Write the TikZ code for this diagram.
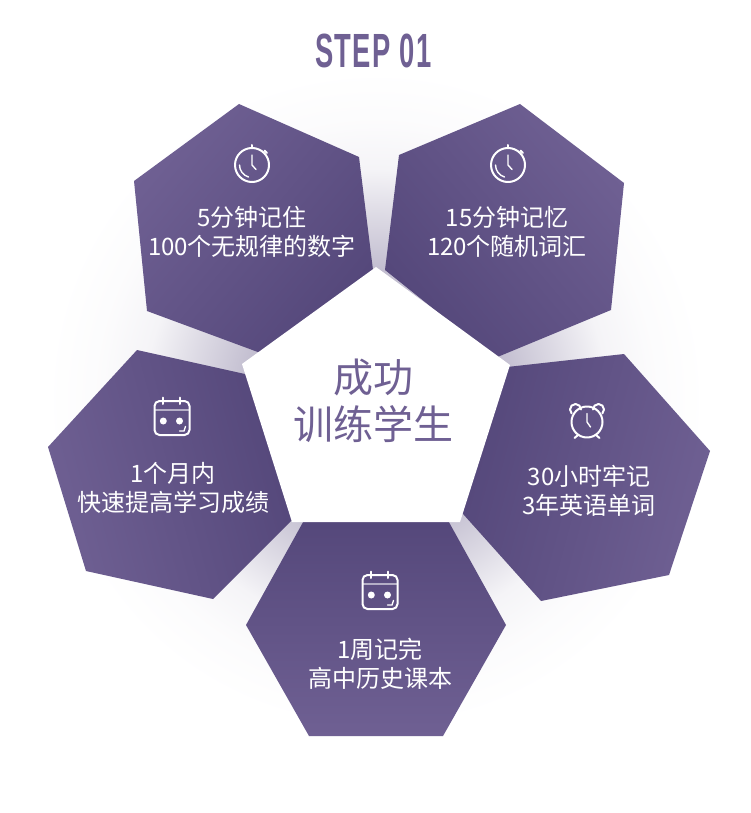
\documentclass[tikz,border=0pt]{standalone}
\usepackage{fontspec}
\setmainfont{Noto Sans CJK SC}
\newfontfamily\stepfont[FakeStretch=0.57,LetterSpace=3]{Liberation Sans}
\definecolor{plumlight}{HTML}{6F6093}
\definecolor{plumdark}{HTML}{54477A}
\pgfdeclareradialshading{glow}{\pgfpoint{0bp}{0bp}}{
  color(0bp)=(plumdark!40!white);
  color(10bp)=(plumdark!35!white);
  color(14bp)=(plumdark!20!white);
  color(17.5bp)=(plumdark!6!white);
  color(21bp)=(plumdark!2!white);
  color(25bp)=(white);
  color(50bp)=(white)}
\tikzset{
  hexfill/.style={top color=plumlight,bottom color=plumdark,shading angle=#1},
  icon/.style={draw=white,line width=2pt,line cap=round,line join=round},
  iconthin/.style={draw=white,line width=1.4pt,line cap=round},
  itemtext/.style={text=white,align=center,font=\fontsize{24}{29.5}\selectfont,inner sep=0pt},
}
\newcommand{\iconwatch}[2]{
  \begin{scope}[shift={(#1,#2)}]
    \draw[icon] (0,0) circle (17);
    \draw[icon] (0,-17) -- (0,-20);
    \draw[icon] (12.5,-14.5) -- (15,-12);
    \draw[iconthin] (0,-10) -- (0,0) -- (4,4.5);
    \draw[iconthin] (-12.5,0) arc (180:106:12.5);
  \end{scope}
}
\newcommand{\iconalarm}[2]{
  \begin{scope}[shift={(#1,#2)}]
    \draw[icon] (0,0) circle (15.5);
    \draw[icon] (-11.5,-12.5) ++(135:5.5) arc (135:360:5.5);
    \draw[icon] (11.5,-12.5) ++(180:5.5) arc (180:405:5.5);
    \draw[icon] (-9,13) -- (-12.5,16);
    \draw[icon] (9,13) -- (12.5,16);
    \draw[iconthin] (0,-8.5) -- (0,0) -- (3.5,5);
  \end{scope}
}
\newcommand{\iconcal}[2]{
  \begin{scope}[shift={(#1,#2)}]
    \draw[icon,rounded corners=5pt] (-17.5,-17) rectangle (17.5,17);
    \draw[white,opacity=.55,line width=1.2pt] (-17.5,-8) -- (17.5,-8);
    \draw[icon] (-8.7,-20.5) -- (-8.7,-14);
    \draw[icon] (8,-20.5) -- (8,-14);
    \fill[white] (-8.7,3) circle (3.5);
    \fill[white] (7.5,3) circle (3.5);
    \draw[iconthin] (7.5,13) -- (12,13) -- (13.5,8.5);
  \end{scope}
}
\begin{document}
\begin{tikzpicture}[x=1pt,y=-1pt]
  \useasboundingbox (0,0) rectangle (750,813);
  \fill[white] (0,0) rectangle (750,813);
  \shade[shading=glow] (376,400) circle (330);

  \node[text=plumlight,inner sep=0pt] (title) at (373.5,51)
    {\stepfont\bfseries\fontsize{48}{48}\selectfont STEP 01};

  \shade[hexfill=50] (239,104) -- (359,157) -- (373,270) -- (274,358) -- (147,311) -- (134,181) -- cycle;
  \shade[hexfill=-50] (520,104) -- (624,183) -- (611,310) -- (495,358) -- (385,270) -- (399,155) -- cycle;
  \shade[hexfill=-105] (624,354) -- (710,451) -- (669,575) -- (541,601) -- (455,505) -- (498,368) -- cycle;
  \shade[hexfill=180] (307,515) -- (445,515) -- (506,625) -- (443,736) -- (309,736) -- (246,625) -- cycle;
  \shade[hexfill=105] (137,350) -- (263,378) -- (292,520) -- (213,599) -- (86,571) -- (48,447) -- cycle;

  \fill[white] (376,267) -- (510,365) -- (460,522) -- (292,522) -- (242,364) -- cycle;

  \node[text=plumlight,align=center,inner sep=0pt,font=\fontsize{40}{46.5}\selectfont] (center) at (373,401) {成功\\训练学生};

  \node[itemtext] (item1) at (252,232) {5分钟记住\\100个无规律的数字};
  \node[itemtext] (item2) at (507,232) {15分钟记忆\\120个随机词汇};
  \node[itemtext] (item3) at (589,491) {30小时牢记\\3年英语单词};
  \node[itemtext] (item4) at (380,664) {1周记完\\高中历史课本};
  \node[itemtext] (item5) at (173,488) {1个月内\\快速提高学习成绩};

  \iconwatch{252}{165}
  \iconwatch{508}{165}
  \iconalarm{587}{422}
  \iconcal{380}{592}
  \iconcal{172}{418}
\end{tikzpicture}
\end{document}
